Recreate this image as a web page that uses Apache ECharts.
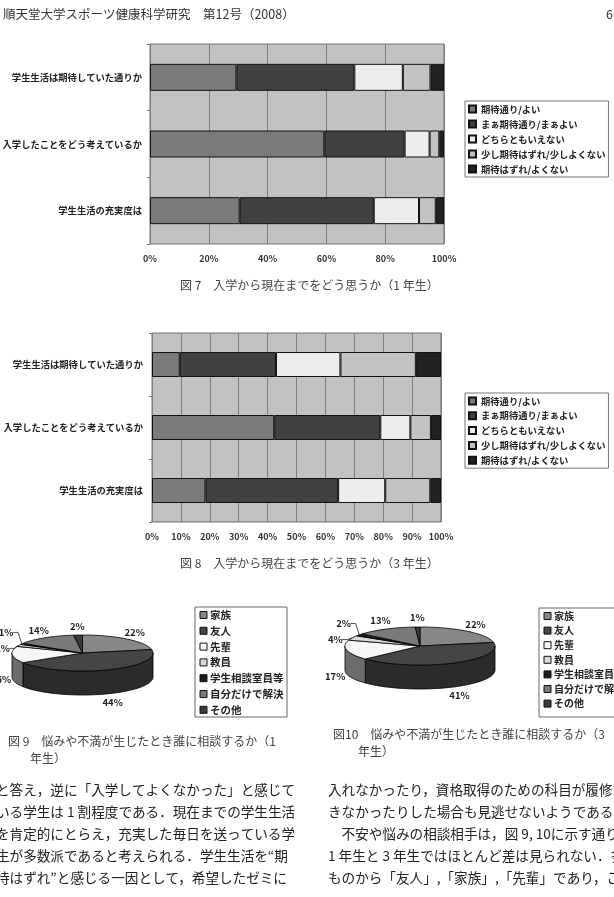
<!DOCTYPE html>
<html><head><meta charset="utf-8">
<script src="https://cdn.jsdelivr.net/npm/echarts@6/dist/echarts.min.js"></script>
<style>html,body{margin:0;padding:0;background:#fff;overflow:hidden}#c{width:614px;height:897px}</style>
</head><body><div id="c"></div><script>
// ---------- data ----------
const barCategories = ['学生生活は期待していた通りか', '入学したことをどう考えているか', '学生生活の充実度は'];
const ratingNames = ['期待通り/よい', 'まぁ期待通り/まぁよい', 'どちらともいえない', '少し期待はずれ/少しよくない', '期待はずれ/よくない'];
// Figure 7 (1st-year), % per category row
const y1Good        = [29.4, 59.3, 30.5];
const y1FairlyGood  = [40.1, 27.3, 45.6];
const y1Neutral     = [16.5, 8.5, 15.4];
const y1SlightlyBad = [9.4, 3.3, 5.7];
const y1Bad         = [4.6, 1.6, 2.8];
// Figure 8 (3rd-year)
const y3Good        = [9.6, 42.3, 18.5];
const y3FairlyGood  = [33.3, 36.7, 45.9];
const y3Neutral     = [22.3, 10.4, 16.3];
const y3SlightlyBad = [26.1, 7.1, 15.6];
const y3Bad         = [8.7, 3.5, 3.7];
const fig7Ticks = [0, 20, 40, 60, 80, 100];
const fig8Ticks = [0, 10, 20, 30, 40, 50, 60, 70, 80, 90, 100];
// Figures 9 / 10 (pies)
const consultCategories = ['家族', '友人', '先輩', '教員', '学生相談室員等', '自分だけで解決', 'その他'];
const consultYear1 = [22, 44, 15, 2, 1, 14, 2];
const consultYear3 = [22, 41, 17, 4, 2, 13, 1];

const headerText = '順天堂大学スポーツ健康科学研究　第12号（2008）';
const captions = {
  f7: '図 7　入学から現在までをどう思うか（1 年生）',
  f8: '図 8　入学から現在までをどう思うか（3 年生）',
  f9a: '図 9　悩みや不満が生じたとき誰に相談するか（1', f9b: '年生）',
  f10a: '図10　悩みや不満が生じたとき誰に相談するか（3', f10b: '年生）'
};
const leftLines = [
  'と答え，逆に「入学してよくなかった」と感じて',
  'いる学生は 1 割程度である．現在までの学生生活',
  'を肯定的にとらえ，充実した毎日を送っている学',
  '生が多数派であると考えられる．学生生活を“期',
  '待はずれ”と感じる一因として，希望したゼミに'
];
const rightLines = [
  '入れなかったり，資格取得のための科目が履修で',
  'きなかったりした場合も見逃せないようである．',
  '　不安や悩みの相談相手は，図 9, 10に示す通り，',
  '1 年生と 3 年生ではほとんど差は見られない．多い',
  'ものから「友人」,「家族」,「先輩」であり，これ'
];

// ---------- styles ----------
const FF = '"Noto Sans CJK JP", "Noto Sans", sans-serif';
const ratingColors = ['#7b7b7b', '#414141', '#ededed', '#c3c3c3', '#222222'];
const pieTop  = ['#878787', '#454545', '#f6f6f6', '#dadada', '#1c1c1c', '#7a7a7a', '#3a3a3a'];
const pieSide = ['#5a5a5a', '#2b2b2b', '#6c6c6c', '#8a8a8a', '#111111', '#505050', '#262626'];

function barSeries(list, gi, stack, bw) {
  return list.map((vals, k) => ({
    type: 'bar', name: ratingNames[k], stack: stack, xAxisIndex: gi, yAxisIndex: gi,
    data: vals, barWidth: bw,
    itemStyle: { color: ratingColors[k], borderColor: '#111', borderWidth: 1 },
    emphasis: { disabled: true }, animation: false
  }));
}

function xAxisCfg(gi, ticks) {
  return {
    gridIndex: gi, type: 'value', min: ticks[0], max: ticks[ticks.length - 1], interval: ticks[1] - ticks[0],
    axisLine: { show: false }, axisTick: { show: false },
    splitLine: { show: true, lineStyle: { color: '#7e7e7e', width: 1 } },
    axisLabel: { formatter: '{value}%', fontSize: 9, fontWeight: 'bold', color: '#333', margin: 10, fontFamily: FF }
  };
}
function yAxisCfg(gi, margin) {
  return {
    gridIndex: gi, type: 'category', data: barCategories, inverse: true,
    axisLine: { show: false },
    axisTick: { show: true, length: 3, lineStyle: { color: '#777' } },
    axisLabel: { fontSize: 9.3, fontWeight: 'bold', color: '#222', margin: margin, fontFamily: FF }
  };
}
function legendCfg(top, gap) {
  return {
    data: ratingNames, orient: 'vertical', left: 465, top: top,
    itemWidth: 7, itemHeight: 7, itemGap: gap, icon: 'rect', selectedMode: false,
    padding: [3, 3, 3, 3], borderColor: '#777', borderWidth: 1, backgroundColor: '#fff',
    textStyle: { fontSize: 9.3, fontWeight: 'bold', color: '#222', lineHeight: 10, fontFamily: FF }
  };
}

// ---------- pseudo-3D pies ----------
function pieLayout(values, cx, cy, rx, ry, depth) {
  const total = values.reduce((a, b) => a + b, 0);
  let acc = 0;
  const sl = values.map((v) => {
    const a0 = acc / total * 2 * Math.PI; acc += v;
    const a1 = acc / total * 2 * Math.PI;
    const m = (a0 + a1) / 2;
    const front = Math.cos(m) < 0;
    return { a0, a1, m, lx: cx + rx * 1.16 * Math.sin(m), ly: cy - ry * 1.5 * Math.cos(m) + (front ? depth : 0), moved: false };
  });
  for (let i = 1; i < sl.length; i++) {
    const p = sl[i - 1], q = sl[i];
    if (Math.abs(p.lx - q.lx) < 22 && Math.abs(p.ly - q.ly) < 12) {
      const mid = (p.ly + q.ly) / 2;
      if (p.ly >= q.ly) { p.ly = mid + 8; q.ly = mid - 8; } else { p.ly = mid - 8; q.ly = mid + 8; }
      [p, q].forEach(s => { if (!s.moved) { s.moved = true; s.lx += Math.sin(s.m) < 0 ? -6 : 6; } });
    }
  }
  return { cx, cy, rx, ry, depth, sl, total };
}
function ell(L, t, dy) { return [L.cx + L.rx * Math.sin(t), L.cy - L.ry * Math.cos(t) + (dy || 0)]; }

function pieSideSeries(values, L) {
  return {
    type: 'custom', coordinateSystem: 'none', silent: true, animation: false, z: 2,
    data: values.map((v, i) => ({ name: consultCategories[i], value: v })),
    renderItem: function (params) {
      const s = L.sl[params.dataIndex];
      const st = Math.max(s.a0, Math.PI / 2), en = Math.min(s.a1, 1.5 * Math.PI);
      if (st >= en) return { type: 'group', children: [] };
      const n = Math.max(2, Math.ceil((en - st) / 0.04));
      const pts = [];
      for (let j = 0; j <= n; j++) pts.push(ell(L, st + (en - st) * j / n, 0));
      for (let j = n; j >= 0; j--) pts.push(ell(L, st + (en - st) * j / n, L.depth));
      return { type: 'polygon', shape: { points: pts }, style: { fill: pieSide[params.dataIndex], stroke: '#000', lineWidth: 0.8 } };
    }
  };
}
function pieTopSeries(values, L) {
  return {
    type: 'custom', coordinateSystem: 'none', silent: true, animation: false, z: 3,
    data: values.map((v, i) => ({ name: consultCategories[i], value: v })),
    renderItem: function (params) {
      const i = params.dataIndex, s = L.sl[i];
      const n = Math.max(2, Math.ceil((s.a1 - s.a0) / 0.04));
      const pts = [[L.cx, L.cy]];
      for (let j = 0; j <= n; j++) pts.push(ell(L, s.a0 + (s.a1 - s.a0) * j / n, 0));
      const children = [
        { type: 'polygon', shape: { points: pts }, style: { fill: pieTop[i], stroke: '#000', lineWidth: 0.8 } },
        { type: 'text', style: { text: values[i] + '%', x: s.lx, y: s.ly, textAlign: 'center', textVerticalAlign: 'middle',
          font: 'bold 9.5px ' + FF, fill: '#222' } }
      ];
      if (s.moved) {
        const dir = Math.sin(s.m) < 0 ? 1 : -1;
        children.push({ type: 'polyline', shape: { points: [[s.lx + dir * 7, s.ly], [s.lx + dir * 12, s.ly], ell(L, s.m, 0)] },
          style: { stroke: '#222', lineWidth: 0.8, fill: null } });
      }
      return { type: 'group', children: children };
    }
  };
}
const L1 = pieLayout(consultYear1, 82.5, 653, 70.5, 18, 24);
const L3 = pieLayout(consultYear3, 420, 646, 75, 19, 24);

// ---------- graphic (texts, pie legends) ----------
function txt(t, x, y, size, color, weight, align) {
  return { type: 'text', silent: true, style: { text: t, x: x, y: y, textAlign: align || 'left', textVerticalAlign: 'middle',
    font: (weight || 'normal') + ' ' + size + 'px ' + FF, fill: color } };
}
function pieLegend(x, y, w, h, rowTop, rowGap, fontSize) {
  const ch = [{ type: 'rect', shape: { x: x, y: y, width: w, height: h }, style: { fill: '#fff', stroke: '#666', lineWidth: 1 } }];
  consultCategories.forEach((c, i) => {
    const cy = rowTop + i * rowGap;
    ch.push({ type: 'rect', shape: { x: x + 5, y: cy - 3.5, width: 7, height: 7 }, style: { fill: pieTop[i], stroke: '#111', lineWidth: 1 } });
    ch.push(txt(c, x + 15, cy, fontSize, '#222', 'bold'));
  });
  return { type: 'group', silent: true, children: ch };
}
const graphic = [
  txt(headerText, 3, 14, 12.5, '#333'),
  txt('6', 606, 14, 12.5, '#333'),
  txt(captions.f7, 180, 285, 12, '#444'),
  txt(captions.f8, 180, 563, 12, '#444'),
  txt(captions.f9a, 8, 741, 12, '#444'),
  txt(captions.f9b, 30, 758, 12, '#444'),
  txt(captions.f10a, 333, 734, 12, '#444'),
  txt(captions.f10b, 358, 751, 12, '#444'),
  pieLegend(195, 607, 92, 110, 615, 15.8, 10.5),
  pieLegend(539, 608, 95, 109, 616, 14.6, 10)
];
leftLines.forEach((t, i) => graphic.push(txt(t, -4, 790 + i * 22, 13.6, '#222')));
rightLines.forEach((t, i) => graphic.push(txt(t, 328, 790 + i * 22, 13.6, '#222')));

const option = {
  animation: false,
  textStyle: { fontFamily: FF },
  grid: [
    { left: 150, top: 44, width: 294, height: 200, show: true, backgroundColor: '#c2c2c2', borderColor: '#6f6f6f', borderWidth: 1, containLabel: false, outerBoundsMode: 'none' },
    { left: 152, top: 333, width: 289, height: 189, show: true, backgroundColor: '#c2c2c2', borderColor: '#6f6f6f', borderWidth: 1, containLabel: false, outerBoundsMode: 'none' }
  ],
  xAxis: [xAxisCfg(0, fig7Ticks), xAxisCfg(1, fig8Ticks)],
  yAxis: [yAxisCfg(0, 8), yAxisCfg(1, 9)],
  legend: [legendCfg(101, 5), legendCfg(393, 4.8)],
  series: [
    ...barSeries([y1Good, y1FairlyGood, y1Neutral, y1SlightlyBad, y1Bad], 0, 'y1', 27),
    ...barSeries([y3Good, y3FairlyGood, y3Neutral, y3SlightlyBad, y3Bad], 1, 'y3', 25),
    pieSideSeries(consultYear1, L1), pieTopSeries(consultYear1, L1),
    pieSideSeries(consultYear3, L3), pieTopSeries(consultYear3, L3)
  ],
  graphic: graphic
};
const chart = echarts.init(document.getElementById('c'), null, { renderer: 'canvas' });
chart.setOption(option);
</script></body></html>
